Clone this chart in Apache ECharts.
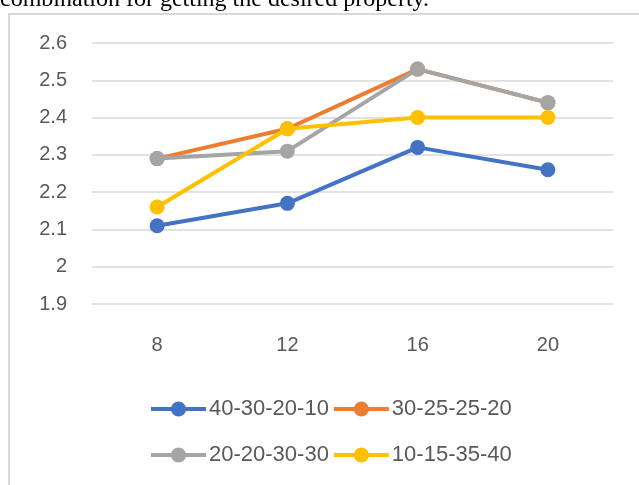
<!DOCTYPE html>
<html>
<head>
    <meta charset="UTF-8">
    <title>chart</title>
    <style>
        html, body { margin: 0; padding: 0; background: #fff; }
        #chart { width: 639px; height: 485px; }
    </style>
</head>
<body>
<div id="chart"></div>
<script src="https://cdn.jsdelivr.net/npm/echarts@6/dist/echarts.min.js"></script>
<script>
    // data
    const categories = ['8', '12', '16', '20'];
    const seriesNames = ['40-30-20-10', '30-25-25-20', '20-20-30-30', '10-15-35-40'];
    const s1 = [2.11, 2.17, 2.32, 2.26];
    const s2 = [2.29, 2.37, 2.53, 2.44];
    const s3 = [2.29, 2.31, 2.53, 2.44];
    const s4 = [2.16, 2.37, 2.40, 2.40];
    const colors = ['#4472C4', '#ED7D31', '#A5A5A5', '#FFC000'];

    const font = 'Liberation Sans, Arial, sans-serif';
    const textColor = '#595959';

    function lineSeries(i, data) {
        return {
            name: seriesNames[i],
            type: 'line',
            data: data,
            symbol: 'circle',
            symbolSize: 15,
            z: 2 + i,
            itemStyle: { color: colors[i] },
            lineStyle: { color: colors[i], width: 4 }
        };
    }

    function legendRow(names, top) {
        return {
            data: names,
            left: 144, top: top,
            itemWidth: 55, itemHeight: 19, itemGap: 3,
            lineStyle: { width: 4 },
            textStyle: { fontFamily: font, fontSize: 22, color: textColor, padding: [0, 0, 0, -2] }
        };
    }

    const chart = echarts.init(document.getElementById('chart'));
    chart.setOption({
        animation: false,
        graphic: [
            {
                type: 'text',
                left: 0,
                top: -12,
                style: {
                    text: 'combination for getting the desired property.',
                    font: '24px "Liberation Serif", "Times New Roman", serif',
                    fill: '#000'
                }
            },
            {
                type: 'polyline',
                shape: { points: [[9, 490], [9, 14], [645, 14]] },
                style: { stroke: '#d9d9d9', lineWidth: 2, fill: null }
            }
        ],
        grid: { left: 92, right: 26, top: 43, bottom: 181 },
        legend: [
            legendRow([seriesNames[0], seriesNames[1]], 393),
            legendRow([seriesNames[2], seriesNames[3]], 439)
        ],
        xAxis: {
            type: 'category',
            data: categories,
            boundaryGap: true,
            axisLine: { show: false },
            axisTick: { show: false },
            axisLabel: { fontFamily: font, fontSize: 20, color: textColor, margin: 31 }
        },
        yAxis: {
            type: 'value',
            min: 1.9,
            max: 2.6,
            interval: 0.1,
            axisLine: { show: false },
            axisTick: { show: false },
            axisLabel: { fontFamily: font, fontSize: 20, color: textColor, margin: 25 },
            splitLine: { lineStyle: { color: '#d9d9d9', width: 1.5 } }
        },
        series: [
            lineSeries(0, s1),
            lineSeries(1, s2),
            lineSeries(2, s3),
            lineSeries(3, s4)
        ]
    });
</script>
</body>
</html>
